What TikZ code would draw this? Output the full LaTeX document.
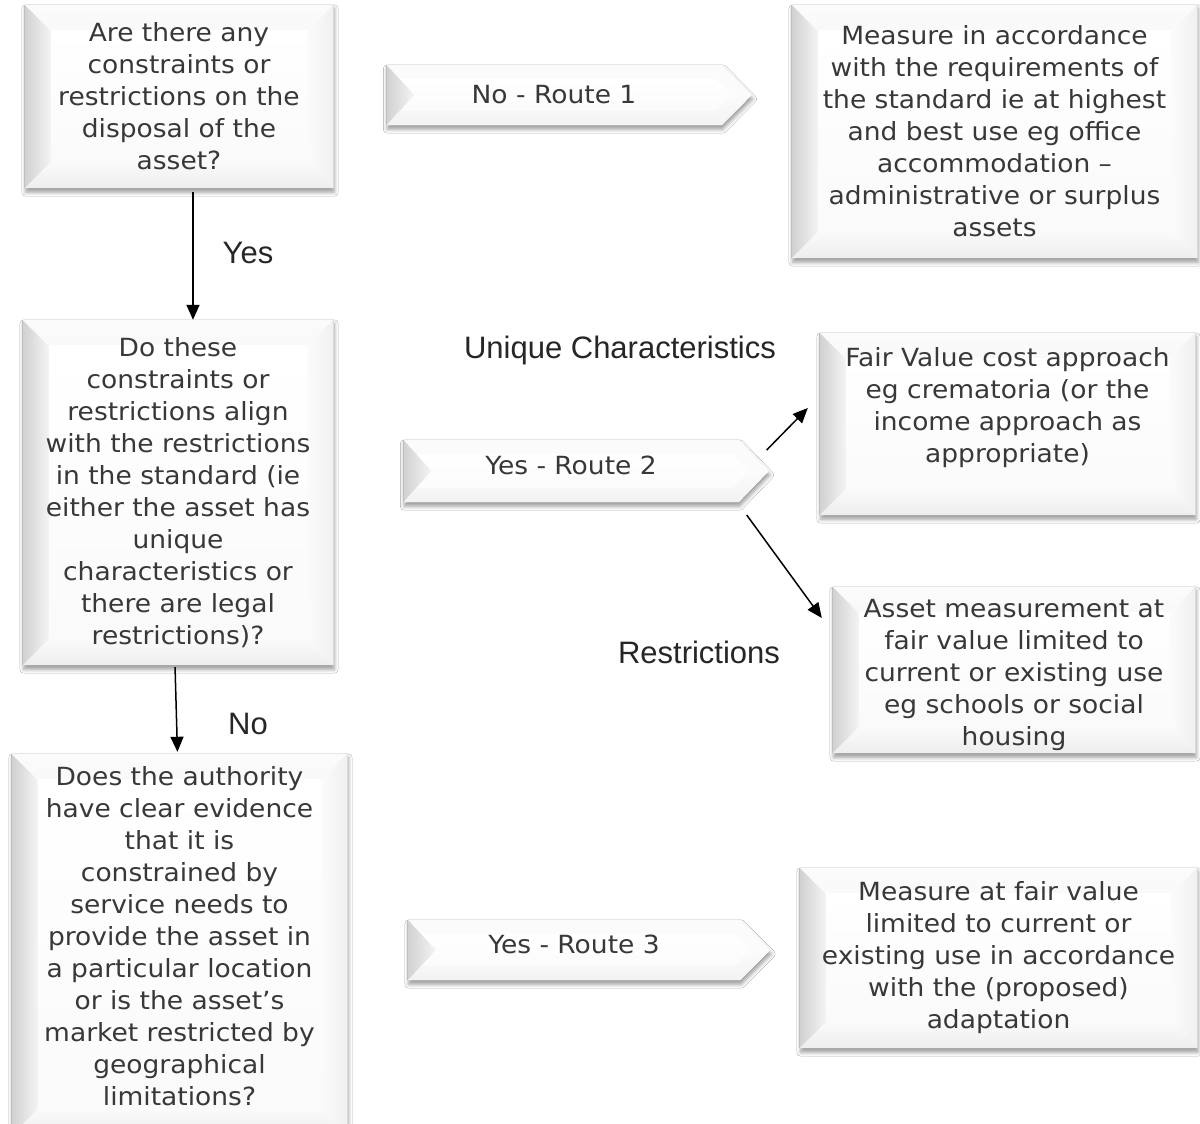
\documentclass[tikz,border=0pt]{standalone}
\usepackage{fontspec}
\setmainfont[FakeStretch=1.06]{DejaVu Sans}
\newfontfamily\lblfont{Liberation Sans}
\usetikzlibrary{arrows.meta, calc, backgrounds, shadows.blur}

% lift the text of a box by #1 without changing its size
\newcommand{\lift}[2]{\raisebox{#1}[\height][\depth]{\begin{tabular}{@{}c@{}}#2\end{tabular}}}

% bevelled panel behind a rectangular node
\newcommand{\bevelrect}[1]{%
  \fill[white, blur shadow={shadow xshift=1pt, shadow yshift=-4pt, shadow blur radius=4pt, shadow opacity=40}]
    (#1.north west) rectangle (#1.south east);
  \coordinate (nw) at ($(#1.north west)+(\bev,\bev)$);
  \coordinate (ne) at ($(#1.north east)+(-\bev,\bev)$);
  \coordinate (se) at ($(#1.south east)+(-\bev,-\bev)$);
  \coordinate (sw) at ($(#1.south west)+(\bev,-\bev)$);
  \shade[left color=gray!36, right color=gray!9] (#1.north west) -- (nw) -- (sw) -- (#1.south west) -- cycle;
  \shade[top color=gray!3, bottom color=gray!5] (#1.north west) -- (#1.north east) -- (ne) -- (nw) -- cycle;
  \shade[left color=gray!3, right color=gray!12] (#1.north east) -- (#1.south east) -- (se) -- (ne) -- cycle;
  \shade[top color=gray!4, bottom color=gray!14] (#1.south west) -- (#1.south east) -- (se) -- (sw) -- cycle;
  \shade[top color=white, bottom color=gray!4] (nw) rectangle (se);
  \draw[gray!50, line width=1pt] (#1.north west) -- (#1.south west);
  \draw[gray!28, line width=0.8pt] (#1.north east) -- (#1.south east);
}

% bevelled chevron behind a route node
\newcommand{\bevelroute}[1]{%
  \coordinate (tp) at ($(#1.east)+(\tip,0)$);
  \coordinate (tq) at ($(#1.east)+(\tip-20,0)$);
  \coordinate (ne) at ($(#1.north east)+(-6,14)$);
  \coordinate (se) at ($(#1.south east)+(-6,-14)$);
  \coordinate (nw) at ($(#1.north west)+(14,14)$);
  \coordinate (sw) at ($(#1.south west)+(14,-14)$);
  \fill[gray!3, blur shadow={shadow xshift=1pt, shadow yshift=-4pt, shadow blur radius=4pt, shadow opacity=40}]
    (#1.north west) -- (#1.north east) -- (tp) -- (#1.south east) -- (#1.south west) -- cycle;
  \shade[top color=gray!3, bottom color=gray!10] (#1.south west) -- (#1.south east) -- (tp) -- (tq) -- (se) -- (sw) -- cycle;
  \shade[top color=white, bottom color=gray!3] (nw) -- (ne) -- (tq) -- (se) -- (sw) -- cycle;
  \shade[left color=gray!36, right color=gray!9] (#1.north west) -- ($(#1.west)+(28,0)$) -- (#1.south west) -- cycle;
  \draw[gray!50, line width=1pt] (#1.north west) -- (#1.south west);
}

\tikzset{
  box/.style={draw=none, inner sep=0pt, align=center, text=black!78,
    font=\fontsize{25}{32}\selectfont},
  conn/.style={line width=1.5pt, -{Triangle[length=15pt, width=13pt]}},
  lbl/.style={font=\lblfont\fontsize{31}{36}\selectfont, text=black!85, inner sep=0pt},
}

\begin{document}
\begin{tikzpicture}[x=1pt, y=-1pt]

  \def\bev{26}
  \def\tip{30}

  \useasboundingbox (0,0) rectangle (1200,1124);

  % === Questions, left column
  \node[box, minimum width=308, minimum height=183] (qA) at (179,96.5)
    {Are there any\\constraints or\\restrictions on the\\disposal of the\\asset?};
  \node[box, minimum width=310, minimum height=345] (qC) at (178,492.5)
    {Do these\\constraints or\\restrictions align\\with the restrictions\\in the standard (ie\\either the asset has\\unique\\characteristics or\\there are legal\\restrictions)?};
  \node[box, minimum width=335, minimum height=381] (qF) at (179.5,944.5)
    {\lift{5pt}{Does the authority\\have clear evidence\\that it is\\constrained by\\service needs to\\provide the asset in\\a particular location\\or is the asset’s\\market restricted by\\geographical\\limitations?}};

  % === Routes
  \node[box, minimum width=335, minimum height=60] (rOne) at (554,95) {No - Route 1};
  \node[box, minimum width=335, minimum height=62] (rTwo) at (571,471) {\lift{3pt}{Yes - Route 2}};
  \node[box, minimum width=332, minimum height=60] (rThree) at (574,950) {\lift{3pt}{Yes - Route 3}};

  % === Outcomes, right column
  \node[box, minimum width=405, minimum height=253] (mBest) at (994.5,131.5)
    {Measure in accordance\\with the requirements of\\the standard ie at highest\\and best use eg office\\accommodation –\\administrative or surplus\\assets};
  \node[box, minimum width=375, minimum height=182] (mCost) at (1007.5,424)
    {\lift{16pt}{Fair Value cost approach\\eg crematoria (or the\\income approach as\\appropriate)}};
  \node[box, minimum width=362, minimum height=166] (mUse) at (1014,670)
    {\lift{-5pt}{Asset measurement at\\fair value limited to\\current or existing use\\eg schools or social\\housing}};
  \node[box, minimum width=397, minimum height=180] (mAdapt) at (998.5,958)
    {Measure at fair value\\limited to current or\\existing use in accordance\\with the (proposed)\\adaptation};

  % === Panels
  \begin{scope}[on background layer]
    \fill[white] (0,0) rectangle (1200,1124);
    \bevelrect{qA}
    \bevelrect{qC}
    \bevelrect{qF}
    \bevelrect{mBest}
    \bevelrect{mCost}
    \bevelrect{mUse}
    \bevelrect{mAdapt}
    \bevelroute{rOne}
    \bevelroute{rTwo}
    \bevelroute{rThree}
  \end{scope}

  % === Connectors
  \draw[conn, shorten <=4pt] ([xshift=14]qA.south) -- ([xshift=15]qC.north);
  \draw[conn, shorten <=2pt, shorten >=2pt] ([xshift=-3]qC.south) -- ([xshift=-2]qF.north);
  \draw[conn] ($(rTwo.east)+(28,-21)$) -- ($(mCost.west)+(-12,-16)$);
  \draw[conn] ($(rTwo.east)+(8,44)$) -- ($(mUse.west)+(-11,-52)$);

  % Labels
  \node[lbl] (yesLbl) at (248,253) {Yes};
  \node[lbl] (noLbl) at (248,724) {No};
  \node[lbl] (uniqueLbl) at (620,350) {Unique Characteristics};
  \node[lbl] (restrLbl) at (699,652) {Restrictions};

\end{tikzpicture}
\end{document}
